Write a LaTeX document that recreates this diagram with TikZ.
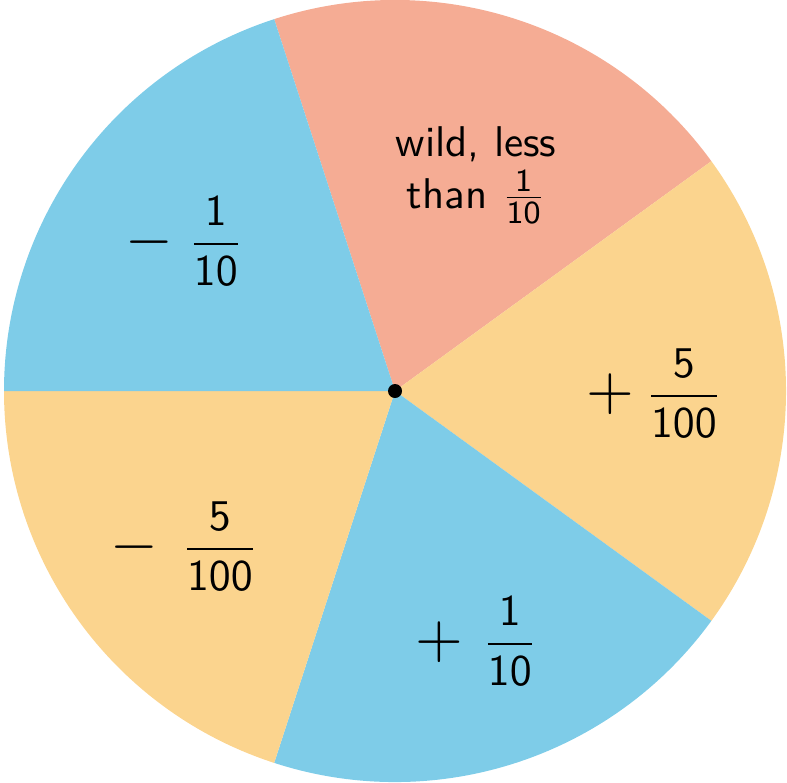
\documentclass[tikz,border=0pt]{standalone}
\definecolor{pblue}{RGB}{126,204,232}
\definecolor{psalmon}{RGB}{245,172,148}
\definecolor{pyellow}{RGB}{251,212,142}
\newcommand\myfr[2]{\frac{\mathsf{#1}}{\mathsf{#2}}}
\newcommand\bigop[1]{\raisebox{-0.5pt}{\scalebox{1.4}{$#1$}}}
\begin{document}
\begin{tikzpicture}[x=0.25pt,y=-0.25pt,
  lbl/.style={font=\fontsize{10.75}{13}\selectfont\sffamily, align=center, inner sep=0pt}]
\useasboundingbox (0,0) rectangle (787,782);
\coordinate (c) at (395,391);
\def\R{391}
\fill[psalmon] (c) -- ++(-36:\R) arc[start angle=-36, end angle=-108, radius=\R] -- cycle;
\fill[pyellow] (c) -- ++(36:\R) arc[start angle=36, end angle=-36, radius=\R] -- cycle;
\fill[pblue] (c) -- ++(108:\R) arc[start angle=108, end angle=36, radius=\R] -- cycle;
\fill[pyellow] (c) -- ++(180:\R) arc[start angle=180, end angle=108, radius=\R] -- cycle;
\fill[pblue] (c) -- ++(252:\R) arc[start angle=252, end angle=180, radius=\R] -- cycle;
\fill[black] (c) circle[radius=7];
% labels
\node[lbl] (wild) at (476,175) {wild, less\\[0pt]than $\myfr{1}{10}$};
\node[lbl] (ltop) at (184,241) {\bigop{-}\hspace{4pt}$\displaystyle\myfr{1}{10}$};
\node[lbl] (rmid) at (654,393) {\bigop{+}\hspace{3pt}$\displaystyle\myfr{5}{100}$};
\node[lbl] (lbot) at (184,546) {\bigop{-}\hspace{6pt}$\displaystyle\myfr{5}{100}$};
\node[lbl] (bot) at (476,641) {\bigop{+}\hspace{5pt}$\displaystyle\myfr{1}{10}$};
\end{tikzpicture}
\end{document}
